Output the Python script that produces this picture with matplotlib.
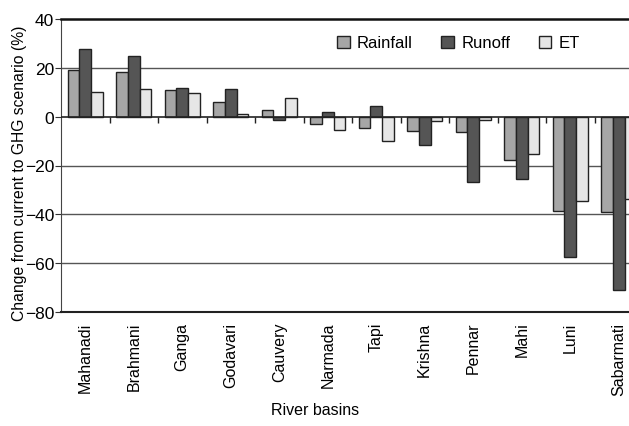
import numpy as np
import matplotlib.pyplot as plt

plt.rcParams['font.family'] = ['Liberation Sans Narrow', 'Liberation Sans', 'DejaVu Sans']

basins = ['Mahanadi', 'Brahmani', 'Ganga', 'Godavari', 'Cauvery', 'Narmada',
          'Tapi', 'Krishna', 'Pennar', 'Mahi', 'Luni', 'Sabarmati']
rainfall = [19.0, 18.4, 11.1, 6.0, 2.9, -2.9, -4.7, -6.0, -6.4, -17.7, -38.7, -39.2]
runoff = [27.8, 24.7, 11.8, 11.4, -1.5, 1.8, 4.2, -11.8, -26.6, -25.5, -57.5, -70.9]
et = [10.0, 11.4, 9.6, 1.0, 7.7, -5.3, -10.0, -1.9, -1.2, -15.2, -34.6, -33.9]

fig = plt.figure(figsize=(6.29, 4.27), dpi=100)
# plot area runs past the right edge of the picture, like the original scan
ax = fig.add_axes([61 / 629, 1 - 313 / 427, 582 / 629, 293 / 427])

x = np.arange(len(basins))
w = 0.24
kw = dict(edgecolor='#222222', linewidth=1.0, zorder=3)
ax.bar(x - w, rainfall, w, color='#a6a6a6', label='Rainfall', **kw)
ax.bar(x, runoff, w, color='#555555', label='Runoff', **kw)
ax.bar(x + w, et, w, color='#e6e6e6', label='ET', **kw)

ax.set_xlim(-0.5, len(basins) - 0.5)
ax.set_ylim(-80, 40)
ax.set_yticks(range(-80, 41, 20))
for yv in (20, -20, -40, -60):
    ax.axhline(yv, color='#555555', lw=1.0, zorder=1)
ax.axhline(0, color='#222222', lw=1.2, zorder=4)
ax.vlines(x[:-1] + 0.5, -2.5, 0, color='#222222', lw=1.0, zorder=4)

ax.set_xticks(x, basins, rotation=90, fontsize=11.5)
ax.tick_params(axis='x', length=0, pad=7)
ax.tick_params(axis='y', labelsize=12.5, length=4, color='#333333', pad=1)

ax.spines['right'].set_visible(False)
ax.spines['top'].set_linewidth(1.8)
ax.spines['top'].set_color('#111111')
ax.spines['bottom'].set_linewidth(1.5)
ax.spines['bottom'].set_color('#222222')
ax.spines['left'].set_color('#444444')

fig.text(20 / 629, 1 - 173 / 427, 'Change from current to GHG scenario (%)', fontsize=11.3,
         rotation=90, ha='center', va='center')
fig.text(315 / 629, 1 - 411 / 427, 'River basins', fontsize=11.5, ha='center', va='center')

ax.legend(loc='upper left', bbox_to_anchor=(261 / 582, 0.995), ncol=3, frameon=False,
          fontsize=12, handlelength=0.75, handleheight=0.75, handletextpad=0.45,
          columnspacing=1.7)

fig.savefig('out.png', dpi=100)
